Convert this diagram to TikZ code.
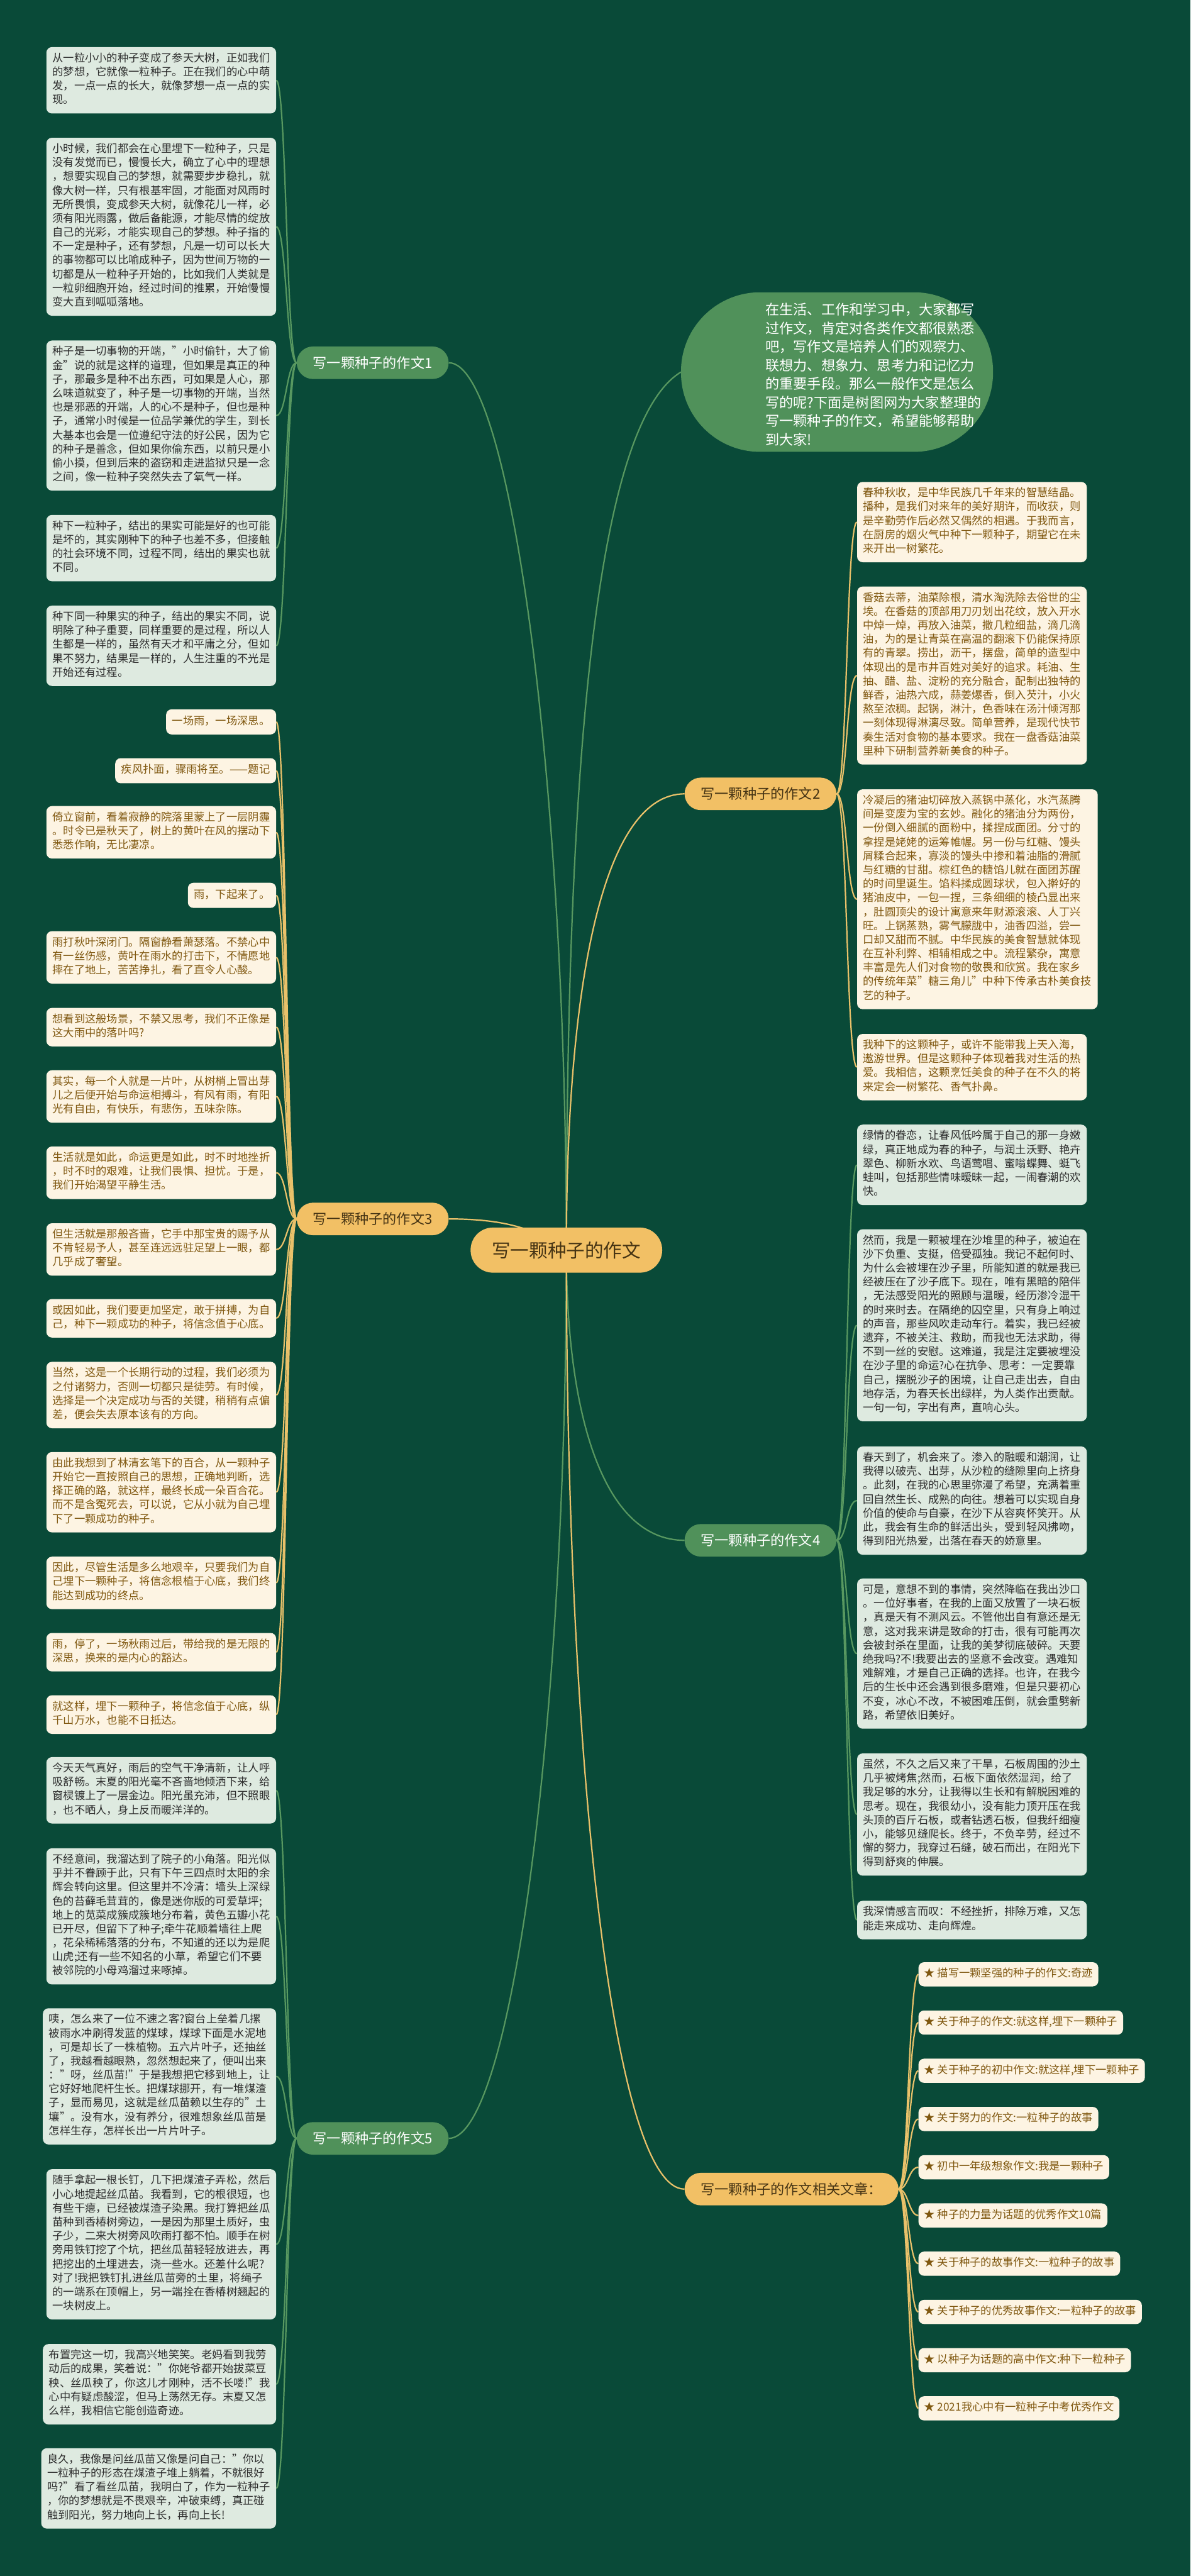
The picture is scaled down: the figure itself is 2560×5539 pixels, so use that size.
\documentclass[tikz,border=0pt]{standalone}
\usepackage{fontspec}
\setmainfont{Noto Sans CJK SC}
\definecolor{bgcol}{RGB}{9,74,56}
\definecolor{gline}{RGB}{88,152,96}
\definecolor{yline}{RGB}{233,193,106}
\definecolor{gfill}{RGB}{80,145,90}
\definecolor{yfill}{RGB}{242,192,101}
\definecolor{gleaf}{RGB}{222,234,224}
\definecolor{yleaf}{RGB}{253,244,227}
\definecolor{ytext}{RGB}{128,88,16}
\definecolor{gtext}{RGB}{45,45,45}
\definecolor{btext}{RGB}{70,52,20}
\pgfdeclarelayer{bg}
\pgfsetlayers{bg,main}
\tikzset{
  leafbase/.style={rounded corners=12pt, inner xsep=13pt, inner ysep=12pt, align=left,
    font=\fontsize{23.4}{30}\selectfont, execute at begin node=\strut, execute at end node=\strut},
  leafg/.style={leafbase, fill=gleaf, text=gtext},
  leafy/.style={leafbase, fill=yleaf, text=ytext},
  linkbox/.style={leafy, inner xsep=12pt, inner ysep=11pt},
  branchbase/.style={rounded corners=35pt, minimum height=70pt, inner xsep=35pt, inner ysep=0pt,
    font=\fontsize{30}{36}\selectfont},
  branchg/.style={branchbase, fill=gfill, text=white},
  branchy/.style={branchbase, fill=yfill, text=btext},
  glink/.style={draw=gline, line width=3pt},
  ylink/.style={draw=yline, line width=3pt}
}
\begin{document}
\begin{tikzpicture}[x=1pt, y=-1pt, line cap=round, line join=round]
  \useasboundingbox (0,0) rectangle (2560,5539);
  \begin{pgfonlayer}{bg}
    \fill[bgcol] (0,0) rectangle (2560,5539);
  \end{pgfonlayer}
  % 中心
  \node[fill=yfill, text=btext, rounded corners=48pt, minimum height=97pt, inner xsep=46pt, inner ysep=0pt,
    font=\fontsize{40}{48}\selectfont] (root) at (1218,2688) {写一颗种子的作文};
  % 引言
  \node[fill=gfill, rounded corners=170pt, minimum width=671pt, minimum height=343pt] (intro) at (1800,800) {};
  \node[anchor=west, text=white, align=left, inner xsep=15pt, font=\fontsize{30}{40}\selectfont,
    execute at begin node=\strut, execute at end node=\strut] (introtxt) at (1631,810)
    {在生活、工作和学习中，大家都写\\过作文，肯定对各类作文都很熟悉\\吧，写作文是培养人们的观察力、\\联想力、想象力、思考力和记忆力\\的重要手段。那么一般作文是怎么\\写的呢?下面是树图网为大家整理的\\写一颗种子的作文，希望能够帮助\\到大家!};
  % 分支
  \node[branchg, anchor=east] (b1) at (965,780) {写一颗种子的作文1};
  \node[branchy, anchor=west] (b2) at (1472,1707) {写一颗种子的作文2};
  \node[branchy, anchor=east] (b3) at (965,2621) {写一颗种子的作文3};
  \node[branchg, anchor=west] (b4) at (1472,3312) {写一颗种子的作文4};
  \node[branchg, anchor=east] (b5) at (965,4598) {写一颗种子的作文5};
  \node[branchy, anchor=west] (b6) at (1472,4707) {写一颗种子的作文相关文章：};

  % 作文1
  \node[leafg, anchor=north east] (p1) at (594,101) {从一粒小小的种子变成了参天大树，正如我们\\的梦想，它就像一粒种子。正在我们的心中萌\\发，一点一点的长大，就像梦想一点一点的实\\现。};
  \node[leafg, anchor=north east] (p2) at (594,296) {小时候，我们都会在心里埋下一粒种子，只是\\没有发觉而已，慢慢长大，确立了心中的理想\\，想要实现自己的梦想，就需要步步稳扎，就\\像大树一样，只有根基牢固，才能面对风雨时\\无所畏惧，变成参天大树，就像花儿一样，必\\须有阳光雨露，做后备能源，才能尽情的绽放\\自己的光彩，才能实现自己的梦想。种子指的\\不一定是种子，还有梦想，凡是一切可以长大\\的事物都可以比喻成种子，因为世间万物的一\\切都是从一粒种子开始的，比如我们人类就是\\一粒卵细胞开始，经过时间的推累，开始慢慢\\变大直到呱呱落地。};
  \node[leafg, anchor=north east] (p3) at (594,732) {种子是一切事物的开端，"小时偷针，大了偷\\金"说的就是这样的道理，但如果是真正的种\\子，那最多是种不出东西，可如果是人心，那\\么味道就变了，种子是一切事物的开端，当然\\也是邪恶的开端，人的心不是种子，但也是种\\子，通常小时候是一位品学兼优的学生，到长\\大基本也会是一位遵纪守法的好公民，因为它\\的种子是善念，但如果你偷东西，以前只是小\\偷小摸，但到后来的盗窃和走进监狱只是一念\\之间，像一粒种子突然失去了氧气一样。};
  \node[leafg, anchor=north east] (p4) at (594,1107) {种下一粒种子，结出的果实可能是好的也可能\\是坏的，其实刚种下的种子也差不多，但接触\\的社会环境不同，过程不同，结出的果实也就\\不同。};
  \node[leafg, anchor=north east] (p5) at (594,1302) {种下同一种果实的种子，结出的果实不同，说\\明除了种子重要，同样重要的是过程，所以人\\生都是一样的，虽然有天才和平庸之分，但如\\果不努力，结果是一样的，人生注重的不光是\\开始还有过程。};

  % 作文3
  \node[leafy, anchor=north east] (q1) at (594,1525) {一场雨，一场深思。};
  \node[leafy, anchor=north east] (q2) at (594,1630) {疾风扑面，骤雨将至。——题记};
  \node[leafy, anchor=north east] (q3) at (594,1733) {倚立窗前，看着寂静的院落里蒙上了一层阴霾\\。时令已是秋天了，树上的黄叶在风的摆动下\\悉悉作响，无比凄凉。};
  \node[leafy, anchor=north east] (q4) at (594,1898) {雨，下起来了。};
  \node[leafy, anchor=north east] (q5) at (594,2002) {雨打秋叶深闭门。隔窗静看萧瑟落。不禁心中\\有一丝伤感，黄叶在雨水的打击下，不情愿地\\摔在了地上，苦苦挣扎，看了直令人心酸。};
  \node[leafy, anchor=north east] (q6) at (594,2167) {想看到这般场景，不禁又思考，我们不正像是\\这大雨中的落叶吗?};
  \node[leafy, anchor=north east] (q7) at (594,2301) {其实，每一个人就是一片叶，从树梢上冒出芽\\儿之后便开始与命运相搏斗，有风有雨，有阳\\光有自由，有快乐，有悲伤，五味杂陈。};
  \node[leafy, anchor=north east] (q8) at (594,2465) {生活就是如此，命运更是如此，时不时地挫折\\，时不时的艰难，让我们畏惧、担忧。于是，\\我们开始渴望平静生活。};
  \node[leafy, anchor=north east] (q9) at (594,2630) {但生活就是那般吝啬，它手中那宝贵的赐予从\\不肯轻易予人，甚至连远远驻足望上一眼，都\\几乎成了奢望。};
  \node[leafy, anchor=north east] (q10) at (594,2793) {或因如此，我们要更加坚定，敢于拼搏，为自\\己，种下一颗成功的种子，将信念值于心底。};
  \node[leafy, anchor=north east] (q11) at (594,2928) {当然，这是一个长期行动的过程，我们必须为\\之付诸努力，否则一切都只是徒劳。有时候，\\选择是一个决定成功与否的关键，稍稍有点偏\\差，便会失去原本该有的方向。};
  \node[leafy, anchor=north east] (q12) at (594,3122) {由此我想到了林清玄笔下的百合，从一颗种子\\开始它一直按照自己的思想，正确地判断，选\\择正确的路，就这样，最终长成一朵百合花。\\而不是含冤死去，可以说，它从小就为自己埋\\下了一颗成功的种子。};
  \node[leafy, anchor=north east] (q13) at (594,3347) {因此，尽管生活是多么地艰辛，只要我们为自\\己埋下一颗种子，将信念根植于心底，我们终\\能达到成功的终点。};
  \node[leafy, anchor=north east] (q14) at (594,3511) {雨，停了，一场秋雨过后，带给我的是无限的\\深思，换来的是内心的豁达。};
  \node[leafy, anchor=north east] (q15) at (594,3645) {就这样，埋下一颗种子，将信念值于心底，纵\\千山万水，也能不日抵达。};

  % 作文5
  \node[leafg, anchor=north east] (s1) at (594,3778) {今天天气真好，雨后的空气干净清新，让人呼\\吸舒畅。末夏的阳光毫不吝啬地倾洒下来，给\\窗棂镀上了一层金边。阳光虽充沛，但不照眼\\，也不晒人，身上反而暖洋洋的。};
  \node[leafg, anchor=north east] (s2) at (594,3974) {不经意间，我溜达到了院子的小角落。阳光似\\乎并不眷顾于此，只有下午三四点时太阳的余\\辉会转向这里。但这里并不冷清：墙头上深绿\\色的苔藓毛茸茸的，像是迷你版的可爱草坪;\\地上的苋菜成簇成簇地分布着，黄色五瓣小花\\已开尽，但留下了种子;牵牛花顺着墙往上爬\\，花朵稀稀落落的分布，不知道的还以为是爬\\山虎;还有一些不知名的小草，希望它们不要\\被邻院的小母鸡溜过来啄掉。};
  \node[leafg, anchor=north east] (s3) at (594,4318) {咦，怎么来了一位不速之客?窗台上垒着几摞\\被雨水冲刷得发蓝的煤球，煤球下面是水泥地\\，可是却长了一株植物。五六片叶子，还抽丝\\了，我越看越眼熟，忽然想起来了，便叫出来\\："呀，丝瓜苗!"于是我想把它移到地上，让\\它好好地爬杆生长。把煤球挪开，有一堆煤渣\\子，显而易见，这就是丝瓜苗赖以生存的"土\\壤"。没有水，没有养分，很难想象丝瓜苗是\\怎样生存，怎样长出一片片叶子。};
  \node[leafg, anchor=north east] (s4) at (594,4664) {随手拿起一根长钉，几下把煤渣子弄松，然后\\小心地提起丝瓜苗。我看到，它的根很短，也\\有些干瘪，已经被煤渣子染黑。我打算把丝瓜\\苗种到香椿树旁边，一是因为那里土质好，虫\\子少，二来大树旁风吹雨打都不怕。顺手在树\\旁用铁钉挖了个坑，把丝瓜苗轻轻放进去，再\\把挖出的土埋进去，浇一些水。还差什么呢?\\对了!我把铁钉扎进丝瓜苗旁的土里，将绳子\\的一端系在顶帽上，另一端拴在香椿树翘起的\\一块树皮上。};
  \node[leafg, anchor=north east] (s5) at (594,5040) {布置完这一切，我高兴地笑笑。老妈看到我劳\\动后的成果，笑着说："你姥爷都开始拔菜豆\\秧、丝瓜秧了，你这儿才刚种，活不长喽!"我\\心中有疑虑酸涩，但马上荡然无存。末夏又怎\\么样，我相信它能创造奇迹。};
  \node[leafg, anchor=north east] (s6) at (594,5264) {良久，我像是问丝瓜苗又像是问自己："你以\\一粒种子的形态在煤渣子堆上躺着，不就很好\\吗?"看了看丝瓜苗，我明白了，作为一粒种子\\，你的梦想就是不畏艰辛，冲破束缚，真正碰\\触到阳光，努力地向上长，再向上长!};

  % 作文2
  \node[leafy, anchor=north west] (t1) at (1843,1036) {春种秋收，是中华民族几千年来的智慧结晶。\\播种，是我们对来年的美好期许，而收获，则\\是辛勤劳作后必然又偶然的相遇。于我而言，\\在厨房的烟火气中种下一颗种子，期望它在未\\来开出一树繁花。};
  \node[leafy, anchor=north west] (t2) at (1843,1261) {香菇去蒂，油菜除根，清水淘洗除去俗世的尘\\埃。在香菇的顶部用刀刃划出花纹，放入开水\\中焯一焯，再放入油菜，撒几粒细盐，滴几滴\\油，为的是让青菜在高温的翻滚下仍能保持原\\有的青翠。捞出，沥干，摆盘，简单的造型中\\体现出的是市井百姓对美好的追求。耗油、生\\抽、醋、盐、淀粉的充分融合，配制出独特的\\鲜香，油热六成，蒜姜爆香，倒入芡汁，小火\\熬至浓稠。起锅，淋汁，色香味在汤汁倾泻那\\一刻体现得淋漓尽致。简单营养，是现代快节\\奏生活对食物的基本要求。我在一盘香菇油菜\\里种下研制营养新美食的种子。};
  \node[leafy, anchor=north west] (t3) at (1843,1697) {冷凝后的猪油切碎放入蒸锅中蒸化，水汽蒸腾\\间是变废为宝的玄妙。融化的猪油分为两份，\\一份倒入细腻的面粉中，揉捏成面团。分寸的\\拿捏是姥姥的运筹帷幄。另一份与红糖、馒头\\屑糅合起来，寡淡的馒头中掺和着油脂的滑腻\\与红糖的甘甜。棕红色的糖馅儿就在面团苏醒\\的时间里诞生。馅料揉成圆球状，包入擀好的\\猪油皮中，一包一捏，三条细细的棱凸显出来\\，肚圆顶尖的设计寓意来年财源滚滚、人丁兴\\旺。上锅蒸熟，雾气朦胧中，油香四溢，尝一\\口却又甜而不腻。中华民族的美食智慧就体现\\在互补利弊、相辅相成之中。流程繁杂，寓意\\丰富是先人们对食物的敬畏和欣赏。我在家乡\\的传统年菜"糖三角儿"中种下传承古朴美食技\\艺的种子。};
  \node[leafy, anchor=north west] (t4) at (1843,2223) {我种下的这颗种子，或许不能带我上天入海，\\遨游世界。但是这颗种子体现着我对生活的热\\爱。我相信，这颗烹饪美食的种子在不久的将\\来定会一树繁花、香气扑鼻。};

  % 作文4
  \node[leafg, anchor=north west] (u1) at (1843,2418) {绿情的眷恋，让春风低吟属于自己的那一身嫩\\绿，真正地成为春的种子，与润土沃野、艳卉\\翠色、柳新水欢、鸟语莺唱、蜜嗡蝶舞、蜓飞\\蛙叫，包括那些情味暧昧一起，一闹春潮的欢\\快。};
  \node[leafg, anchor=north west] (u2) at (1843,2643) {然而，我是一颗被埋在沙堆里的种子，被迫在\\沙下负重、支挺，倍受孤独。我记不起何时、\\为什么会被埋在沙子里，所能知道的就是我已\\经被压在了沙子底下。现在，唯有黑暗的陪伴\\，无法感受阳光的照顾与温暖，经历渗冷湿干\\的时来时去。在隔绝的囚空里，只有身上响过\\的声音，那些风吹走动车行。着实，我已经被\\遗弃，不被关注、救助，而我也无法求助，得\\不到一丝的安慰。这难道，我是注定要被埋没\\在沙子里的命运?心在抗争、思考：一定要靠\\自己，摆脱沙子的困境，让自己走出去，自由\\地存活，为春天长出绿样，为人类作出贡献。\\一句一句，字出有声，直响心头。};
  \node[leafg, anchor=north west] (u3) at (1843,3110) {春天到了，机会来了。渗入的融暖和潮润，让\\我得以破壳、出芽，从沙粒的缝隙里向上挤身\\。此刻，在我的心思里弥漫了希望，充满着重\\回自然生长、成熟的向往。想着可以实现自身\\价值的使命与自豪，在沙下从容爽怀笑开。从\\此，我会有生命的鲜活出头，受到轻风拂吻，\\得到阳光热爱，出落在春天的娇意里。};
  \node[leafg, anchor=north west] (u4) at (1843,3394) {可是，意想不到的事情，突然降临在我出沙口\\。一位好事者，在我的上面又放置了一块石板\\，真是天有不测风云。不管他出自有意还是无\\意，这对我来讲是致命的打击，很有可能再次\\会被封杀在里面，让我的美梦彻底破碎。天要\\绝我吗?不!我要出去的坚意不会改变。遇难知\\难解难，才是自己正确的选择。也许，在我今\\后的生长中还会遇到很多磨难，但是只要初心\\不变，冰心不改，不被困难压倒，就会重劈新\\路，希望依旧美好。};
  \node[leafg, anchor=north west] (u5) at (1843,3770) {虽然，不久之后又来了干旱，石板周围的沙土\\几乎被烤焦;然而，石板下面依然湿润，给了\\我足够的水分，让我得以生长和有解脱困难的\\思考。现在，我很幼小，没有能力顶开压在我\\头顶的百斤石板，或者钻透石板，但我纤细瘦\\小，能够见缝爬长。终于，不负辛劳，经过不\\懈的努力，我穿过石缝，破石而出，在阳光下\\得到舒爽的伸展。};
  \node[leafg, anchor=north west] (u6) at (1843,4087) {我深情感言而叹：不经挫折，排除万难，又怎\\能走来成功、走向辉煌。};

  % 相关文章
  \foreach \t [count=\i] in {{描写一颗坚强的种子的作文:奇迹},{关于种子的作文:就这样,埋下一颗种子},
      {关于种子的初中作文:就这样,埋下一颗种子},{关于努力的作文:一粒种子的故事},
      {初中一年级想象作文:我是一颗种子},{种子的力量为话题的优秀作文10篇},
      {关于种子的故事作文:一粒种子的故事},{关于种子的优秀故事作文:一粒种子的故事},
      {以种子为话题的高中作文:种下一粒种子},{2021我心中有一粒种子中考优秀作文}} {
    \node[linkbox, anchor=north west] (k\i) at (1975,{4219+103.7*(\i-1)}) {★ \t};
    \begin{pgfonlayer}{bg}
      \draw[ylink] (b6.east) .. controls +(21,0) and +(-21,0) .. (k\i.west);
    \end{pgfonlayer}
  }

  % 连线
  \begin{pgfonlayer}{bg}
    \draw[glink] (root.center) .. controls (1218,1700) and (1100,780) .. (b1.east);
    \draw[glink] (root.center) .. controls (1218,1500) and (1300,900) .. (intro.west);
    \draw[ylink] (root.center) .. controls (1218,2100) and (1300,1707) .. (b2.west);
    \draw[ylink] (root.center) .. controls (1150,2640) and (1080,2621) .. (b3.east);
    \draw[glink] (root.center) .. controls (1218,3050) and (1300,3312) .. (b4.west);
    \draw[glink] (root.center) .. controls (1218,3700) and (1100,4598) .. (b5.east);
    \draw[ylink] (root.center) .. controls (1218,3800) and (1320,4707) .. (b6.west);
    \foreach \i in {1,...,5}
      \draw[glink] (b1.west) .. controls +(-22,0) and +(22,0) .. (p\i.east);
    \foreach \i in {1,...,15}
      \draw[ylink] (b3.west) .. controls +(-22,0) and +(22,0) .. (q\i.east);
    \foreach \i in {1,...,6}
      \draw[glink] (b5.west) .. controls +(-22,0) and +(22,0) .. (s\i.east);
    \foreach \i in {1,...,4}
      \draw[ylink] (b2.east) .. controls +(23,0) and +(-23,0) .. (t\i.west);
    \foreach \i in {1,...,6}
      \draw[glink] (b4.east) .. controls +(23,0) and +(-23,0) .. (u\i.west);
  \end{pgfonlayer}
\end{tikzpicture}
\end{document}
